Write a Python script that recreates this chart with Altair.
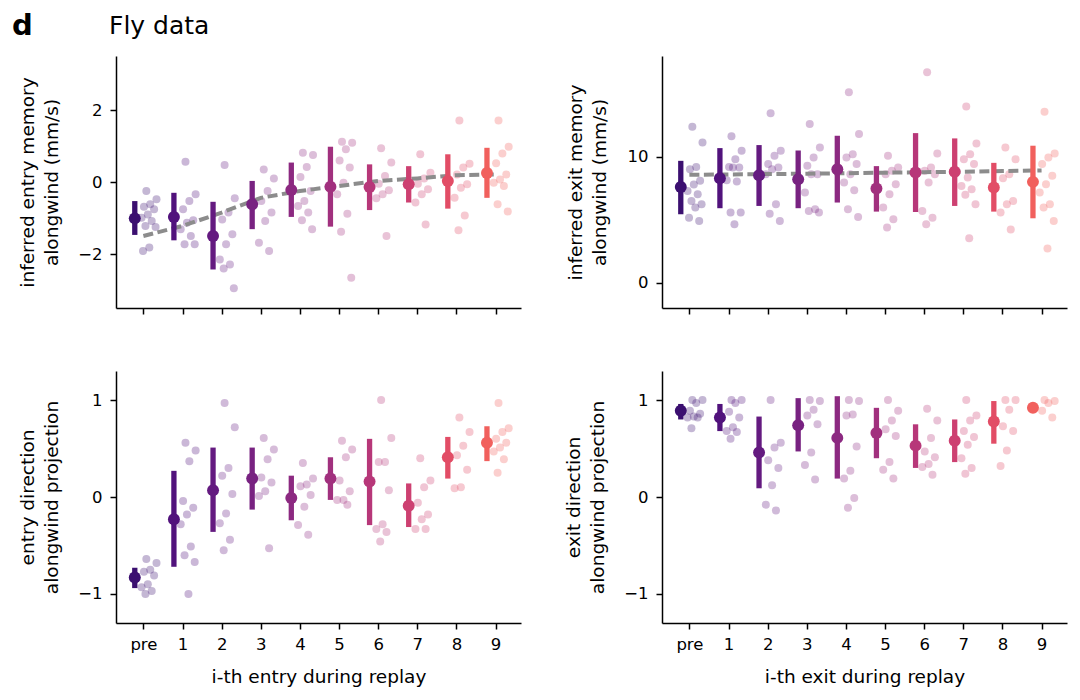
import altair as alt
import pandas as pd

cats = ["pre", "1", "2", "3", "4", "5", "6", "7", "8", "9"]
colors = ["#3b0f70", "#51127c", "#641a80", "#782281", "#8c2981",
          "#a1307e", "#b73779", "#cd4071", "#e24d66", "#f1605d"]

# ---- top-left: inferred entry memory alongwind (mm/s)
tl_points = [
    [-0.25, -0.48, -0.62, -0.69, -0.76, -0.9, -0.99, -1.08, -1.22, -1.25, -1.82, -1.92],
    [0.56, -0.34, -0.53, -0.76, -1.06, -1.13, -1.31, -1.5, -1.73, -1.73],
    [0.47, -0.45, -0.85, -1.04, -1.45, -1.73, -2.15, -2.29, -2.4, -2.95],
    [0.35, 0.1, -0.25, -0.53, -0.85, -1.08, -1.69, -1.92],
    [0.81, 0.75, 0.42, 0.14, -0.25, -0.53, -0.67, -0.85, -1.06, -1.31],
    [1.12, 1.09, 0.91, 0.6, 0.4, -0.02, -0.34, -0.88, -1.38, -2.66],
    [0.94, 0.54, 0.17, -0.05, -0.23, -0.34, -0.45, -1.5],
    [0.77, 0.26, 0.1, -0.05, -0.2, -0.34, -0.57, -1.18],
    [1.71, 0.51, 0.4, 0.21, -0.06, -0.16, -0.44, -0.93, -1.34],
    [1.71, 0.98, 0.79, 0.52, 0.21, 0.07, -0.02, -0.11, -0.62, -0.82],
]
tl_mean = [-1.01, -0.97, -1.5, -0.62, -0.22, -0.13, -0.14, -0.06, 0.03, 0.25]
tl_lo = [-1.47, -1.62, -2.43, -1.31, -0.97, -1.24, -0.78, -0.57, -0.74, -0.44]
tl_hi = [-0.53, -0.3, -0.55, 0.03, 0.54, 0.98, 0.49, 0.44, 0.77, 0.95]
tl_fit = [-1.5, -1.22, -0.85, -0.44, -0.25, -0.11, 0.03, 0.1, 0.19, 0.21]

# ---- top-right: inferred exit memory alongwind (mm/s)
tr_points = [
    [12.39, 11.14, 9.2, 9.02, 8.09, 7.8, 7.29, 7.03, 6.5, 6.23, 5.97, 5.17, 4.9],
    [11.64, 10.48, 9.81, 9.2, 9.15, 9.15, 8.14, 8.04, 5.57, 5.57, 4.64],
    [13.45, 10.48, 10.08, 9.42, 9.15, 9.02, 8.62, 6.23, 5.49, 4.9],
    [12.6, 10.74, 9.95, 9.28, 8.62, 8.62, 7.16, 5.84, 5.7, 5.57],
    [15.12, 11.8, 10.21, 9.95, 9.42, 8.62, 7.96, 7.35, 5.84, 5.23],
    [10.08, 9.15, 8.89, 8.62, 7.82, 7.03, 5.97, 5.04, 4.38],
    [16.71, 10.27, 9.15, 8.89, 8.62, 7.96, 5.7, 5.17, 4.64],
    [14.0, 11.06, 10.21, 9.81, 9.42, 8.36, 7.69, 7.43, 6.98, 6.23, 3.53],
    [10.74, 9.81, 8.62, 8.3, 6.5, 6.23, 5.57, 4.24],
    [13.58, 10.27, 9.95, 9.42, 8.49, 7.82, 7.16, 6.23, 5.97, 4.9, 2.73],
]
tr_mean = [7.61, 8.3, 8.54, 8.22, 9.02, 7.48, 8.75, 8.81, 7.56, 8.01]
tr_lo = [5.44, 5.92, 6.1, 5.92, 6.37, 5.65, 5.62, 6.1, 5.65, 5.12]
tr_hi = [9.68, 10.69, 10.93, 10.5, 11.67, 9.26, 11.88, 11.46, 9.52, 10.88]
tr_fit = [8.57, 8.6, 8.63, 8.66, 8.7, 8.74, 8.78, 8.82, 8.87, 8.92]

# ---- bottom-left: entry direction alongwind projection
bl_points = [
    [-0.64, -0.68, -0.75, -0.77, -0.81, -0.9, -0.93, -0.97, -1.0],
    [0.56, 0.48, 0.37, -0.04, -0.11, -0.18, -0.28, -0.51, -0.6, -0.67, -1.0],
    [0.97, 0.72, 0.3, 0.22, 0.03, -0.17, -0.27, -0.44, -0.55],
    [0.61, 0.49, 0.39, 0.2, 0.15, 0.06, 0.01, -0.53],
    [0.35, 0.19, 0.13, 0.11, 0.02, -0.1, -0.29, -0.39],
    [0.58, 0.49, 0.41, 0.17, 0.06, -0.03, -0.03, -0.08],
    [1.0, 0.61, 0.36, 0.36, 0.07, -0.28, -0.33, -0.36, -0.46],
    [0.4, 0.17, 0.1, -0.06, -0.18, -0.23, -0.33, -0.33],
    [0.82, 0.67, 0.53, 0.43, 0.28, 0.1, 0.09],
    [0.97, 0.71, 0.67, 0.6, 0.56, 0.51, 0.47, 0.39, 0.25],
]
bl_mean = [-0.83, -0.23, 0.07, 0.19, -0.01, 0.19, 0.16, -0.09, 0.41, 0.56]
bl_lo = [-0.94, -0.72, -0.36, -0.13, -0.24, -0.03, -0.29, -0.31, 0.19, 0.37]
bl_hi = [-0.73, 0.27, 0.51, 0.51, 0.22, 0.41, 0.6, 0.14, 0.62, 0.73]

# ---- bottom-right: exit direction alongwind projection
br_points = [
    [1.0, 1.0, 0.97, 0.89, 0.86, 0.83, 0.82, 0.82, 0.71],
    [1.0, 1.0, 0.97, 0.88, 0.82, 0.72, 0.68, 0.67, 0.6],
    [1.0, 0.56, 0.51, 0.38, 0.3, 0.12, -0.08, -0.14],
    [1.0, 0.99, 0.9, 0.84, 0.75, 0.46, 0.33, 0.18],
    [1.0, 0.99, 0.85, 0.84, 0.52, 0.27, 0.19, -0.01, -0.11],
    [1.0, 0.89, 0.79, 0.7, 0.63, 0.36, 0.28, 0.19],
    [0.91, 0.79, 0.61, 0.47, 0.41, 0.34, 0.31, 0.23],
    [1.0, 0.84, 0.79, 0.68, 0.62, 0.54, 0.4, 0.3, 0.24],
    [1.0, 1.0, 0.9, 0.73, 0.68, 0.48, 0.32],
    [1.0, 0.99, 0.97, 0.89, 0.82],
]
br_mean = [0.89, 0.82, 0.46, 0.74, 0.61, 0.66, 0.53, 0.58, 0.78, 0.92]
br_lo = [0.8, 0.68, 0.09, 0.47, 0.19, 0.4, 0.3, 0.36, 0.55, 0.9]
br_hi = [0.96, 0.96, 0.83, 1.02, 1.04, 0.92, 0.75, 0.8, 0.99, 0.94]

FONT = "DejaVu Sans"
W, H = 405, 252
XDOM = [-0.7, 9.65]


def panel(points, means, lo, hi, fit, ydom, yticks, ytitle, xtitle, tpad, extra=None):
    rows = []
    for i, vals in enumerate(points):
        for k, v in enumerate(vals):
            frac = (k * 0.618034 + 0.37) % 1.0
            rows.append({"cat": i, "x": i - 0.08 + 0.42 * frac, "v": v})
    pts = pd.DataFrame(rows)
    summ = pd.DataFrame({"cat": list(range(10)),
                         "x": [i - 0.22 for i in range(10)],
                         "m": means, "lo": lo, "hi": hi})
    bottom = xtitle is not None
    xaxis = alt.Axis(values=list(range(10)),
                     labelExpr="datum.value == 0 ? 'pre' : datum.label",
                     labels=bottom, title=xtitle if bottom else None,
                     titlePadding=15, labelPadding=7)
    xs = alt.Scale(domain=XDOM, nice=False, zero=False)
    ys = alt.Scale(domain=ydom, nice=False, zero=False)
    yaxis = alt.Axis(values=yticks, format="~g", title=ytitle, titlePadding=tpad,
                     labelPadding=8)
    col = alt.Color("cat:O", scale=alt.Scale(domain=list(range(10)), range=colors), legend=None)

    p = alt.Chart(pts).mark_circle(size=64, opacity=0.3).encode(
        x=alt.X("x:Q", scale=xs, axis=xaxis),
        y=alt.Y("v:Q", scale=ys, axis=yaxis),
        color=col,
    )
    layers = [p]
    if fit is not None:
        fd = pd.DataFrame({"cat": list(range(10)), "f": fit})
        layers.append(alt.Chart(fd).mark_line(color="#8c8c8c", strokeWidth=4,
                                              strokeDash=[10, 4.5]).encode(
            x=alt.X("cat:Q", scale=xs), y=alt.Y("f:Q", scale=ys)))
    layers.append(alt.Chart(summ).mark_rule(strokeWidth=5.3).encode(
        x=alt.X("x:Q", scale=xs), y=alt.Y("lo:Q", scale=ys), y2="hi:Q", color=col))
    layers.append(alt.Chart(summ).mark_circle(size=143, opacity=1).encode(
        x=alt.X("x:Q", scale=xs), y=alt.Y("m:Q", scale=ys), color=col))
    if extra is not None:
        layers.extend(extra)
    return alt.layer(*layers).properties(width=W, height=H)


labels_df = pd.DataFrame({"t": ["d"]})
title_df = pd.DataFrame({"t": ["Fly data"]})
d_mark = alt.Chart(labels_df).mark_text(align="left", baseline="alphabetic", font=FONT,
                                        fontSize=29, fontWeight="bold", color="black").encode(
    x=alt.value(-104), y=alt.value(-21), text="t:N")
fly_mark = alt.Chart(title_df).mark_text(align="left", baseline="alphabetic", font=FONT,
                                         fontSize=25, color="black").encode(
    x=alt.value(-7), y=alt.value(-22), text="t:N")

tl = panel(tl_points, tl_mean, tl_lo, tl_hi, tl_fit, [-3.5, 3.5], [-2, 0, 2],
           ["inferred entry memory", "alongwind (mm/s)"], None, 16, [d_mark, fly_mark])
tr = panel(tr_points, tr_mean, tr_lo, tr_hi, tr_fit, [-2, 18], [0, 10],
           ["inferred exit memory", "alongwind (mm/s)"], None, 18)
bl = panel(bl_points, bl_mean, bl_lo, bl_hi, None, [-1.3, 1.3], [-1, 0, 1],
           ["entry direction", "alongwind projection"], "i-th entry during replay", 16)
br = panel(br_points, br_mean, br_lo, br_hi, None, [-1.3, 1.3], [-1, 0, 1],
           ["exit direction", "alongwind projection"], "i-th exit during replay", 16)

chart = alt.concat(tl, tr, bl, br, columns=2).properties(
    spacing={"row": 63, "column": 141},
    bounds="flush",
    padding={"left": 4, "top": 4, "right": 5, "bottom": 5},
).configure_view(stroke=None).configure_axis(
    grid=False,
    domainColor="black", domainWidth=1.5,
    tickColor="black", tickWidth=1.5, tickSize=6,
    labelFont=FONT, labelFontSize=16.5, labelColor="black",
    titleFont=FONT, titleFontSize=18.5, titleFontWeight="normal", titleColor="black",
    titleLineHeight=24,
)

chart.save("out.html", embed_options={"renderer": "svg", "actions": False})
